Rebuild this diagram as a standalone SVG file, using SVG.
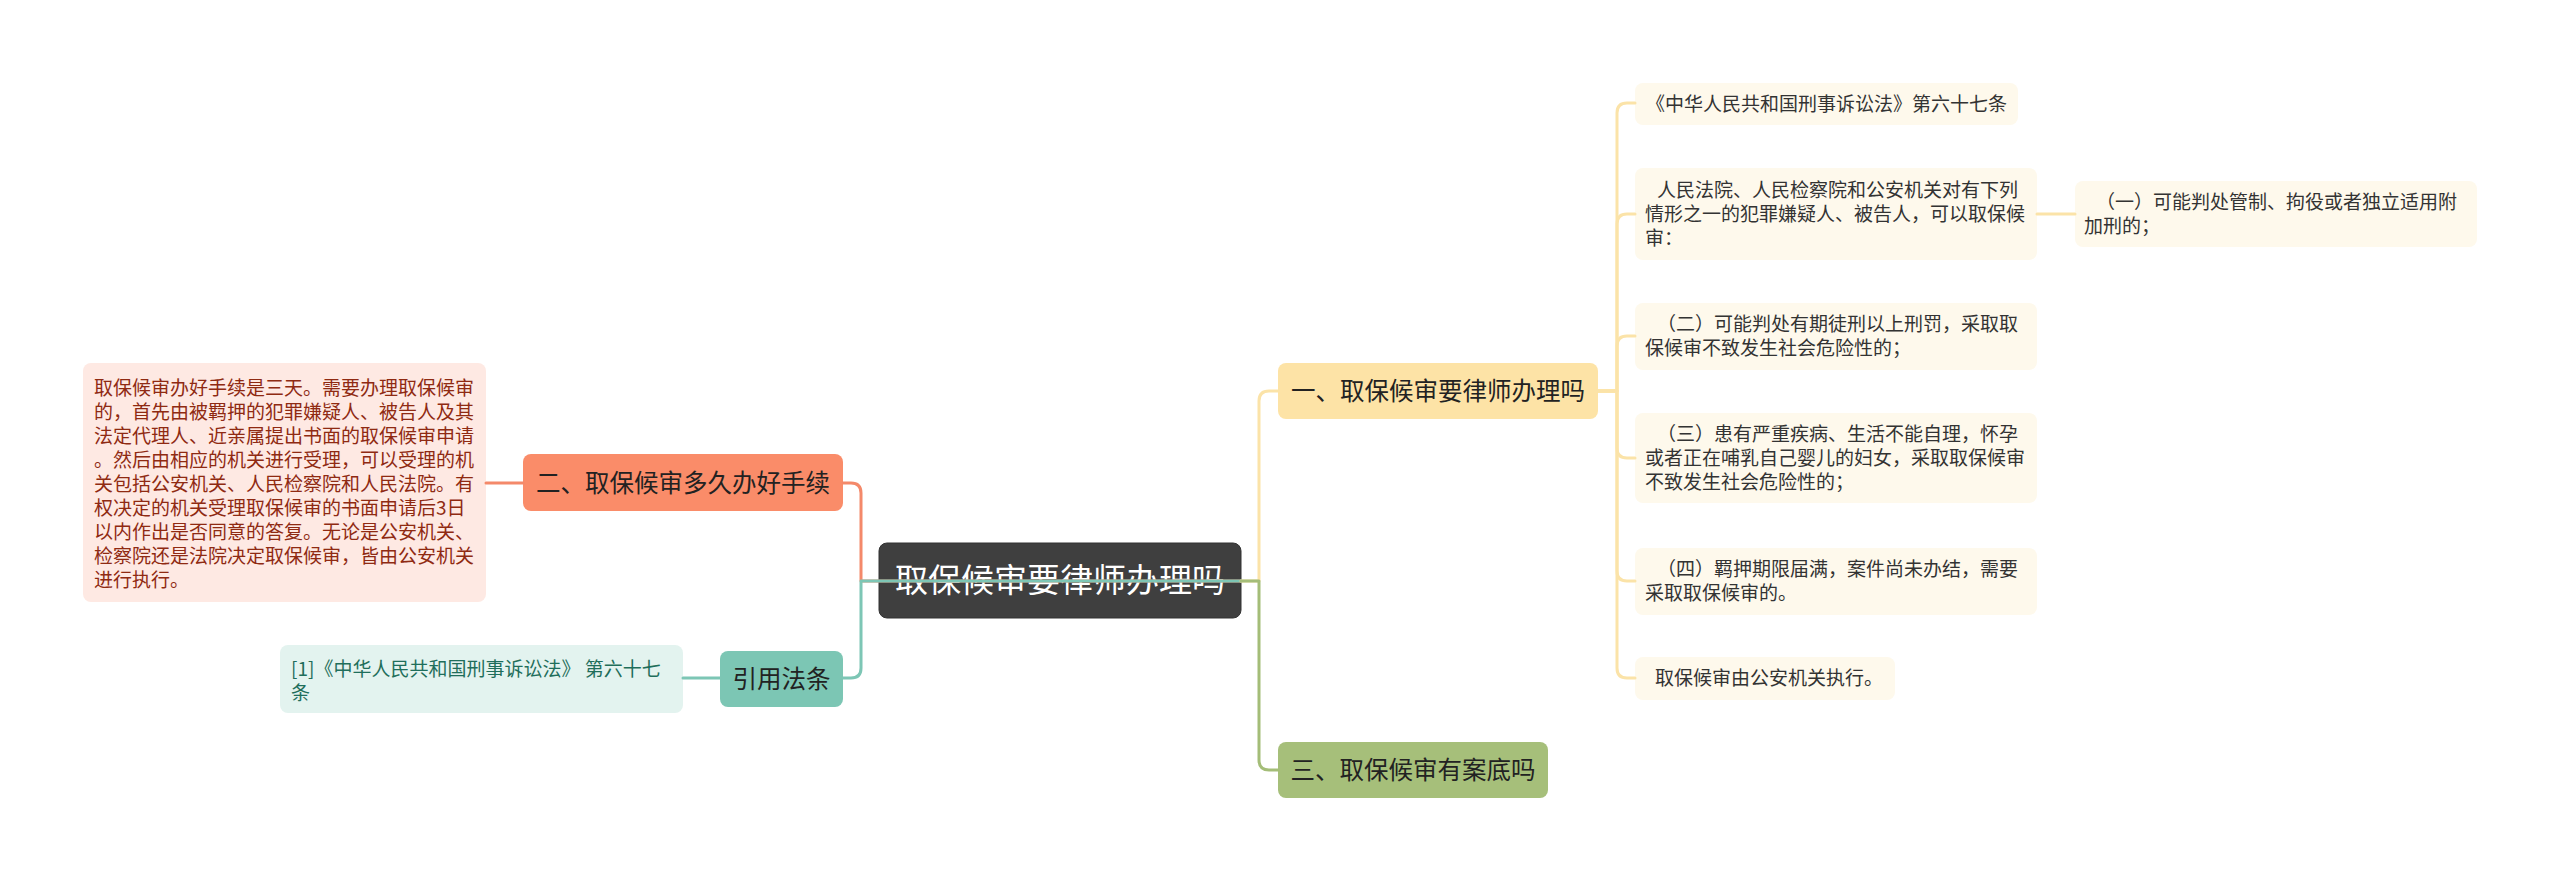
<svg xmlns="http://www.w3.org/2000/svg" width="2560" height="882" viewBox="0 0 2560 882">
<style>
text{font-family:"Noto Sans CJK SC","Noto Sans",sans-serif}
.c{fill:none;stroke-width:3;stroke-linecap:round;stroke-linejoin:round}
.t1{font-size:24.5px;fill:#222;text-anchor:middle}
.d{font-size:19px;fill:#333}
.rb{fill:#fef9ec}
</style>
<rect width="2560" height="882" fill="#fff"/>
<g id="center">
<rect x="879" y="543" width="362" height="75" rx="8" fill="#3f3f3f" stroke="#333" stroke-width="1"/>
<text x="1060" y="592" font-size="33" fill="#fff" text-anchor="middle">取保候审要律师办理吗</text>
</g>
<g id="n1">
<rect x="1278" y="363" width="320" height="56" rx="8" fill="#fde3a6"/>
<text class="t1" x="1438" y="400">一、取保候审要律师办理吗</text>
</g>
<g id="n2">
<rect x="523" y="454" width="320" height="57" rx="8" fill="#fa8c69"/>
<text class="t1" x="683" y="492">二、取保候审多久办好手续</text>
</g>
<g id="n3">
<rect x="1278" y="742" width="270" height="56" rx="8" fill="#a6bf7a"/>
<text class="t1" x="1413" y="779">三、取保候审有案底吗</text>
</g>
<g id="n4">
<rect x="720" y="651" width="123" height="56" rx="8" fill="#7cc6b4"/>
<text class="t1" x="781.5" y="688">引用法条</text>
</g>
<g id="d2">
<rect x="83" y="363" width="403" height="239" rx="8" fill="#fee9e3"/>
<text font-size="19" fill="#8f2a12" x="94">
<tspan x="94" y="395">取保候审办好手续是三天。需要办理取保候审</tspan>
<tspan x="94" y="419">的，首先由被羁押的犯罪嫌疑人、被告人及其</tspan>
<tspan x="94" y="443">法定代理人、近亲属提出书面的取保候审申请</tspan>
<tspan x="94" y="467">。然后由相应的机关进行受理，可以受理的机</tspan>
<tspan x="94" y="491">关包括公安机关、人民检察院和人民法院。有</tspan>
<tspan x="94" y="515">权决定的机关受理取保候审的书面申请后3日</tspan>
<tspan x="94" y="539">以内作出是否同意的答复。无论是公安机关、</tspan>
<tspan x="94" y="563">检察院还是法院决定取保候审，皆由公安机关</tspan>
<tspan x="94" y="587">进行执行。</tspan>
</text>
</g>
<g id="d4">
<rect x="280" y="645" width="403" height="68" rx="8" fill="#e3f3ef"/>
<text font-size="19" fill="#1f6e5b">
<tspan x="291" y="676">[1]《中华人民共和国刑事诉讼法》 第六十七</tspan>
<tspan x="291" y="700">条</tspan>
</text>
</g>
<g id="r1">
<rect class="rb" x="1635" y="83" width="383" height="42" rx="8"/>
<text class="d" x="1646" y="111">《中华人民共和国刑事诉讼法》第六十七条</text>
</g>
<g id="r2">
<rect class="rb" x="1635" y="168" width="402" height="92" rx="8"/>
<text class="d">
<tspan x="1657" y="197">人民法院、人民检察院和公安机关对有下列</tspan>
<tspan x="1645" y="221">情形之一的犯罪嫌疑人、被告人，可以取保候</tspan>
<tspan x="1645" y="245">审：</tspan>
</text>
</g>
<g id="r2a">
<rect class="rb" x="2075" y="181" width="402" height="66" rx="8"/>
<text class="d">
<tspan x="2096" y="209">（一）可能判处管制、拘役或者独立适用附</tspan>
<tspan x="2084" y="233">加刑的；</tspan>
</text>
</g>
<g id="r3">
<rect class="rb" x="1635" y="303" width="402" height="67" rx="8"/>
<text class="d">
<tspan x="1657" y="331">（二）可能判处有期徒刑以上刑罚，采取取</tspan>
<tspan x="1645" y="355">保候审不致发生社会危险性的；</tspan>
</text>
</g>
<g id="r4">
<rect class="rb" x="1635" y="413" width="402" height="90" rx="8"/>
<text class="d">
<tspan x="1657" y="441">（三）患有严重疾病、生活不能自理，怀孕</tspan>
<tspan x="1645" y="465">或者正在哺乳自己婴儿的妇女，采取取保候审</tspan>
<tspan x="1645" y="489">不致发生社会危险性的；</tspan>
</text>
</g>
<g id="r5">
<rect class="rb" x="1635" y="548" width="402" height="67" rx="8"/>
<text class="d">
<tspan x="1657" y="576">（四）羁押期限届满，案件尚未办结，需要</tspan>
<tspan x="1645" y="600">采取取保候审的。</tspan>
</text>
</g>
<g id="r6">
<rect class="rb" x="1635" y="657" width="260" height="43" rx="8"/>
<text class="d" x="1655" y="685">取保候审由公安机关执行。</text>
</g>
<g id="connectors">
<path class="c" stroke="#f4896a" d="M1241,581 H861 V493 Q861,483 851,483 H843"/>
<path class="c" stroke="#f4896a" d="M523,483 H486"/>
<path class="c" stroke="#7dc6b5" d="M1241,581 H861 V668 Q861,678 851,678 H843"/>
<path class="c" stroke="#7dc6b5" d="M720,678 H683"/>
<path class="c" stroke="#fbe3a8" d="M1241,581 H1259 V401 Q1259,391 1269,391 H1278"/>
<path class="c" stroke="#a4bd78" d="M1241,581 H1259 V760 Q1259,770 1269,770 H1278"/>
<path class="c" stroke="#fbe3a8" d="M1598,391 H1617 V113 Q1617,103 1627,103 H1635"/>
<path class="c" stroke="#fbe3a8" d="M1598,391 H1617 V224 Q1617,214 1627,214 H1635"/>
<path class="c" stroke="#fbe3a8" d="M1598,391 H1617 V346 Q1617,336 1627,336 H1635"/>
<path class="c" stroke="#fbe3a8" d="M1598,391 H1617 V448 Q1617,458 1627,458 H1635"/>
<path class="c" stroke="#fbe3a8" d="M1598,391 H1617 V571 Q1617,581 1627,581 H1635"/>
<path class="c" stroke="#fbe3a8" d="M1598,391 H1617 V668 Q1617,678 1627,678 H1635"/>
<path class="c" stroke="#fbe3a8" d="M2037,214 H2075"/>
</g>
</svg>
